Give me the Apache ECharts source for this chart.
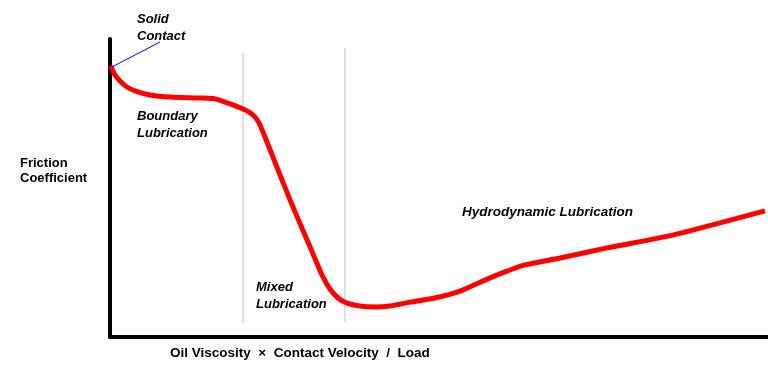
<!DOCTYPE html>
<html>
<head>
<meta charset="utf-8">
<script src="https://cdn.jsdelivr.net/npm/echarts@6/dist/echarts.min.js"></script>
<style>html,body{margin:0;padding:0;background:#fff;}#c{width:768px;height:384px;}</style>
</head>
<body>
<div id="c"></div>
<script>
// Stribeck curve (x: relative duty parameter 0-10, y: relative friction 0-1)
var curveX = [0.015,0.076,0.152,0.258,0.380,0.608,0.912,1.368,1.596,1.824,2.021,2.158,2.249,2.325,2.736,3.085,3.222,3.343,3.465,3.602,3.799,4.027,4.255,4.559,4.939,5.319,5.699,6.033,6.307,6.839,7.553,8.556,9.271,9.954];
var curveY = [0.909,0.879,0.859,0.839,0.826,0.812,0.805,0.802,0.799,0.782,0.765,0.748,0.725,0.688,0.460,0.279,0.208,0.161,0.131,0.114,0.104,0.101,0.104,0.117,0.131,0.154,0.191,0.221,0.242,0.265,0.299,0.342,0.383,0.423];
// regime boundaries
var boundary1X = [2.021,2.021], boundary1Y = [0.953,0.047];
var boundary2X = [3.571,3.571], boundary2Y = [0.970,0.050];
// "Solid Contact" pointer
var pointerX = [0.03,0.76], pointerY = [0.906,0.990];
var yAxisName = ['Friction','Coefficient'];
var xAxisName = 'Oil Viscosity  \u00d7  Contact Velocity  /  Load';
var regionLabels = [
  {text:'Solid\nContact', x:137, y:11, size:13},
  {text:'Boundary\nLubrication', x:137, y:108, size:13},
  {text:'Mixed\nLubrication', x:256, y:279, size:13},
  {text:'Hydrodynamic Lubrication', x:462, y:204, size:13.5}
];

function zip(a,b){return a.map(function(v,i){return [v,b[i]];});}

var chart = echarts.init(document.getElementById('c'));
var g = regionLabels.map(function(l){
  return {type:'text', left:l.x, top:l.y, style:{text:l.text, font:'italic bold ' + l.size + 'px "Liberation Sans", Arial, sans-serif', fill:'#000', lineHeight:17}};
});
g.push({type:'text', left:20, top:156, style:{text:yAxisName.join('\n'), font:'bold 13px "Liberation Sans", Arial, sans-serif', fill:'#000', lineHeight:15}});
g.push({type:'text', left:170, top:346, style:{text:xAxisName, font:'bold 13.5px "Liberation Sans", Arial, sans-serif', fill:'#000'}});

chart.setOption({
  animation:false,
  backgroundColor:'#fff',
  grid:{left:110, right:0, top:39, bottom:47},
  xAxis:{type:'value', min:0, max:10, axisLine:{show:true, onZero:false, lineStyle:{color:'#000', width:4}}, axisTick:{show:false}, axisLabel:{show:false}, splitLine:{show:false}},
  yAxis:{type:'value', min:0, max:1, axisLine:{show:true, onZero:false, lineStyle:{color:'#000', width:4}}, axisTick:{show:false}, axisLabel:{show:false}, splitLine:{show:false}},
  graphic:g,
  series:[
    {type:'line', data:zip(boundary1X,boundary1Y), symbol:'none', silent:true, lineStyle:{color:'#c0c0c0', width:1}},
    {type:'line', data:zip(boundary2X,boundary2Y), symbol:'none', silent:true, lineStyle:{color:'#c0c0c0', width:1}},
    {type:'line', data:zip(curveX,curveY), symbol:'none', smooth:0.25, lineStyle:{color:'#ff0000', width:5}},
    {type:'line', data:zip(pointerX,pointerY), symbol:'none', silent:true, lineStyle:{color:'#0000ff', width:1}}
  ]
});
</script>
</body>
</html>
